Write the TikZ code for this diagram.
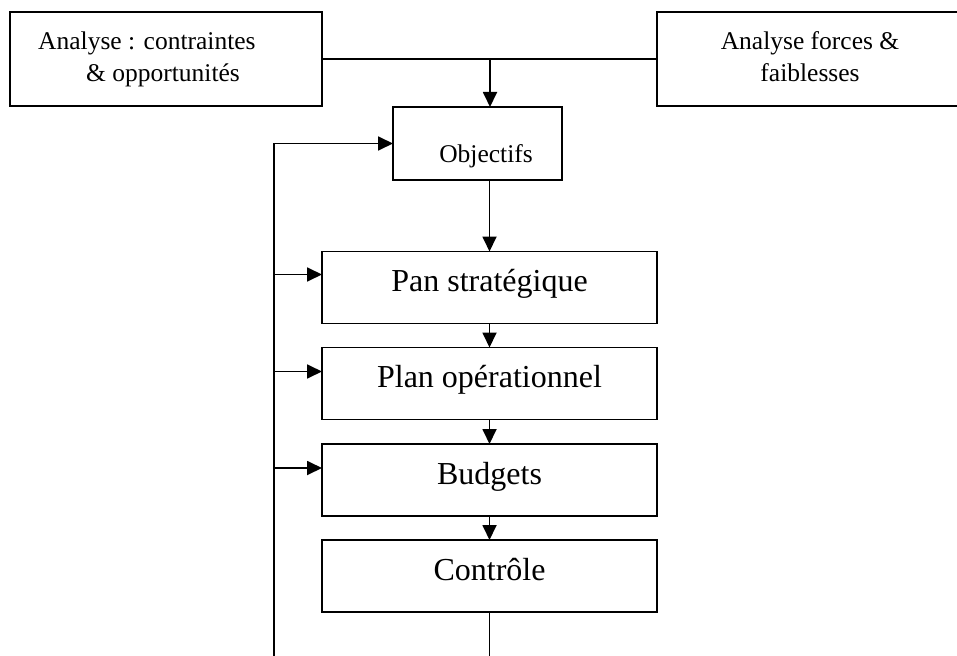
\documentclass[tikz,border=0pt]{standalone}
\usepackage{fontspec}
\setmainfont{Liberation Serif}
\usetikzlibrary{arrows.meta}

\tikzset{
  frame/.style={draw, line width=1.8pt, inner sep=0pt, outer sep=0pt},
  stage/.style={frame, minimum width=335pt, minimum height=72pt,
    font=\fontsize{32}{38}\selectfont, text height=22pt, text depth=14pt},
  small/.style={font=\fontsize{25.5}{30}\selectfont, inner sep=0pt, anchor=base},
  link/.style={line width=1.8pt},
  flow/.style={link, -{Triangle[length=15pt, width=14pt]}}
}

\begin{document}
\begin{tikzpicture}[x=1pt, y=-1pt]
\useasboundingbox (0,0) rectangle (957,655);

% analysis boxes at the top
\node[frame, minimum width=312pt, minimum height=94pt] (ctr) at (166,59) {};
\node[small, anchor=base west] (ctr1) at (38,50) {Analyse : contraintes};
\node[small, anchor=base west] (ctr2) at (86,82) {\& opportunités};

\node[frame, minimum width=320pt, minimum height=94pt] (ff) at (817,59) {};
\node[small] (ff1) at (810,50) {Analyse forces \&};
\node[small] (ff2) at (810,82) {faiblesses};

% objectives
\node[frame, minimum width=169pt, minimum height=73pt] (obj) at (477.5,143.5) {};
\node[small] (objt) at (486,163) {Objectifs};

% planning chain
\node[stage] (pan) at (489.5,287.5) {Pan stratégique};
\node[stage] (plan) at (489.5,383.5) {Plan opérationnel};
\node[stage] (bud) at (489.5,480) {Budgets};
\node[stage] (ctl) at (489.5,576) {Contrôle};

% joining the two analyses
\coordinate (j) at (490,59);
\draw[link] (ctr.east) -- (ff.west);
\draw[flow] (j) -- (j |- obj.north);

% main chain
\draw[flow] (obj.south -| pan.north) -- (pan.north);
\draw[flow] (pan.south) -- (plan.north);
\draw[flow] (plan.south) -- (bud.north);
\draw[flow] (bud.south) -- (ctl.north);

% feedback loop
\coordinate (fb) at (274,660);
\draw[link] (ctl.south) -- (ctl.south |- fb);
\draw[flow] (fb) |- (obj.west);
\path (pan.north west) ++(0,23) coordinate (pin);
\path (plan.north west) ++(0,24) coordinate (plin);
\path (bud.north west) ++(0,24) coordinate (bin);
\draw[flow] (fb |- pin) -- (pin);
\draw[flow] (fb |- plin) -- (plin);
\draw[flow] (fb |- bin) -- (bin);
\end{tikzpicture}
\end{document}
